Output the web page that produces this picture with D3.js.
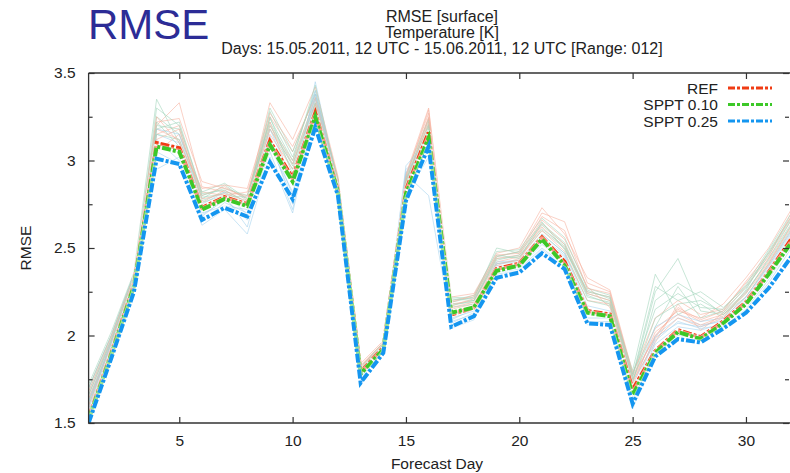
<!DOCTYPE html>
<html><head><meta charset="utf-8">
<script src="https://cdn.jsdelivr.net/npm/d3@7"></script>
<style>body{margin:0;background:#fff}svg{display:block}text{font-family:"Liberation Sans",Arial,sans-serif}</style>
</head><body><svg id="c" width="790" height="473"></svg>
<script>
const days = d3.range(1, 33);
const seriesNames = ["REF", "SPPT 0.10", "SPPT 0.25"];
const seriesColors = ["#f03c14", "#3cc828", "#1496f0"];
const memberColors = ["#f6b2a0", "#a4d6bc", "#a6d4ee"];
const refMean = [1.53,1.90,2.29,3.10,3.07,2.73,2.79,2.75,3.11,2.90,3.27,2.83,1.79,1.93,2.83,3.16,2.12,2.16,2.38,2.41,2.56,2.42,2.14,2.12,1.69,1.91,2.03,1.99,2.08,2.19,2.36,2.55];
const sppt10Mean = [1.52,1.89,2.28,3.08,3.05,2.72,2.78,2.74,3.09,2.88,3.25,2.82,1.78,1.92,2.81,3.13,2.13,2.16,2.37,2.40,2.55,2.40,2.13,2.11,1.66,1.90,2.02,1.98,2.07,2.18,2.35,2.53];
const sppt25Mean = [1.50,1.87,2.25,3.01,2.98,2.66,2.73,2.68,2.99,2.78,3.19,2.80,1.73,1.90,2.77,3.08,2.05,2.11,2.33,2.36,2.47,2.38,2.07,2.06,1.61,1.88,1.98,1.96,2.04,2.13,2.27,2.45];
const refMembers = [
 [1.70,2.00,2.35,3.20,3.33,2.85,2.82,2.80,3.25,3.05,3.38,2.90,1.83,1.96,2.90,3.29,2.20,2.22,2.45,2.48,2.70,2.65,2.30,2.25,1.78,2.10,2.20,2.12,2.15,2.30,2.45,2.70],
 [1.62,1.95,2.32,3.15,3.20,2.80,2.85,2.78,3.20,3.00,3.35,2.88,1.82,1.95,2.88,3.25,2.18,2.20,2.42,2.45,2.62,2.50,2.25,2.22,1.75,2.00,2.15,2.08,2.12,2.25,2.42,2.62],
 [1.58,1.93,2.30,3.18,3.12,2.76,2.83,2.76,3.15,2.95,3.30,2.86,1.80,1.94,2.86,3.22,2.15,2.18,2.40,2.44,2.60,2.48,2.20,2.18,1.72,1.98,2.10,2.05,2.10,2.22,2.40,2.60],
 [1.66,1.97,2.33,3.05,3.15,2.82,2.80,2.82,3.22,2.86,3.32,2.87,1.81,1.95,2.89,3.20,2.17,2.21,2.44,2.46,2.66,2.55,2.28,2.16,1.74,1.96,2.18,2.03,2.13,2.28,2.44,2.66],
 [1.60,1.96,2.31,3.22,3.24,2.88,2.84,2.79,3.33,3.12,3.42,2.91,1.84,1.97,2.92,3.30,2.22,2.24,2.47,2.50,2.73,2.58,2.33,2.26,1.79,2.04,2.14,2.10,2.18,2.33,2.50,2.72],
 [1.64,1.94,2.30,3.12,3.18,2.78,2.81,2.77,3.18,2.98,3.33,2.87,1.81,1.95,2.87,3.24,2.16,2.19,2.41,2.43,2.64,2.52,2.24,2.20,1.73,2.02,2.12,2.06,2.11,2.24,2.41,2.63],
 [1.68,1.99,2.34,3.25,3.10,2.84,2.86,2.84,3.27,3.08,3.36,2.89,1.82,1.96,2.91,3.27,2.19,2.23,2.46,2.47,2.68,2.60,2.27,2.24,1.77,1.99,2.16,2.09,2.14,2.31,2.47,2.68]
];
const sppt10Members = [
 [1.72,2.02,2.36,3.35,3.10,2.78,2.86,2.77,3.28,3.02,3.40,2.89,1.82,1.96,2.92,3.24,2.22,2.21,2.50,2.47,2.63,2.52,2.24,2.20,1.80,2.35,2.12,2.18,2.10,2.26,2.48,2.68],
 [1.64,1.96,2.33,3.25,3.15,2.80,2.84,2.80,3.22,2.98,3.36,2.88,1.81,1.95,2.88,3.21,2.18,2.19,2.44,2.45,2.60,2.50,2.22,2.19,1.76,2.25,2.44,2.14,2.12,2.24,2.44,2.64],
 [1.60,1.94,2.31,3.20,3.18,2.77,2.82,2.75,3.18,2.95,3.32,2.86,1.80,1.94,2.86,3.19,2.16,2.18,2.41,2.43,2.58,2.47,2.20,2.17,1.73,2.20,2.30,2.22,2.12,2.22,2.41,2.61],
 [1.68,1.98,2.34,3.15,3.12,2.79,2.81,2.73,3.25,2.92,3.30,2.87,1.81,1.95,2.87,3.18,2.19,2.22,2.46,2.44,2.65,2.49,2.26,2.21,1.75,2.05,2.28,2.10,2.14,2.27,2.46,2.66],
 [1.62,1.95,2.32,3.30,3.20,2.82,2.87,2.78,3.30,3.05,3.38,2.89,1.82,1.96,2.90,3.23,2.20,2.23,2.48,2.49,2.67,2.56,2.27,2.23,1.78,2.15,2.24,2.16,2.15,2.29,2.49,2.70],
 [1.70,2.00,2.35,3.22,3.08,2.76,2.80,2.79,3.20,2.97,3.33,2.88,1.81,1.95,2.89,3.20,2.17,2.20,2.43,2.46,2.61,2.51,2.23,2.18,1.74,2.10,2.18,2.20,2.13,2.25,2.43,2.63],
 [1.66,1.97,2.33,3.18,3.22,2.81,2.83,2.76,3.24,3.00,3.43,2.87,1.80,1.94,2.88,3.17,2.21,2.20,2.45,2.48,2.64,2.53,2.25,2.22,1.77,2.28,2.20,2.25,2.16,2.28,2.47,2.67]
];
const sppt25Members = [
 [1.66,1.98,2.33,3.15,3.10,2.72,2.80,2.62,3.10,2.78,3.45,2.86,1.78,1.94,2.95,3.05,2.10,2.14,2.40,2.40,2.55,2.45,2.15,2.12,1.68,2.00,2.10,2.06,2.08,2.20,2.38,2.58],
 [1.60,1.94,2.30,3.08,3.05,2.65,2.76,2.70,3.05,2.72,3.30,2.84,1.77,1.93,2.85,3.15,2.08,2.12,2.38,2.39,2.52,2.43,2.10,2.10,1.65,1.95,2.05,2.03,2.07,2.17,2.35,2.55],
 [1.56,1.91,2.28,3.12,3.00,2.68,2.78,2.66,3.12,2.75,3.35,2.85,1.76,1.92,2.90,3.10,2.06,2.10,2.36,2.38,2.50,2.40,2.08,2.08,1.62,1.92,2.02,2.00,2.05,2.15,2.32,2.52],
 [1.63,1.96,2.31,2.95,3.02,2.70,2.74,2.72,3.08,2.82,3.25,2.83,1.76,1.93,2.92,2.80,2.07,2.13,2.39,2.41,2.53,2.44,2.12,2.11,1.60,1.97,2.08,2.04,2.06,2.19,2.36,2.56],
 [1.70,2.00,2.35,3.18,3.15,2.75,2.82,2.69,3.18,2.88,3.40,2.87,1.79,1.95,2.93,3.12,2.12,2.16,2.42,2.43,2.58,2.47,2.17,2.14,1.70,2.05,2.12,2.08,2.10,2.22,2.40,2.60],
 [1.58,1.93,2.29,3.05,2.98,2.63,2.72,2.58,3.02,2.70,3.28,2.83,1.75,1.92,2.80,3.02,2.04,2.09,2.35,2.37,2.49,2.39,2.06,2.07,1.58,1.90,2.00,1.99,2.04,2.14,2.30,2.50],
 [1.62,1.95,2.31,3.10,3.08,2.69,2.77,2.74,3.14,2.80,3.38,2.85,1.77,1.93,2.97,3.12,2.09,2.15,2.41,2.42,2.56,2.46,2.13,2.13,1.66,1.99,2.07,2.05,2.09,2.21,2.39,2.59]
];
const xTicks = [5, 10, 15, 20, 25, 30];
const yTicks = [1.5, 2, 2.5, 3, 3.5];
const yMinorTicks = [1.75, 2.25, 2.75, 3.25];

const svg = d3.select("#c");
const L = 88.6, T = 73, B = 423, R = 791.3;
const x = d3.scaleLinear().domain([1, 32]).range([L, R]);
const y = d3.scaleLinear().domain([1.5, 3.5]).range([B, T]);
const axisColor = "#333";
const fs = 15.5;

svg.append("defs").append("clipPath").attr("id", "clip")
  .append("rect").attr("x", L).attr("y", T).attr("width", 790 - L).attr("height", B - T);

const line = d3.line().x((d, i) => x(days[i])).y(d => y(d));
const plot = svg.append("g").attr("clip-path", "url(#clip)");

const memberSets = [refMembers, sppt10Members, sppt25Members];
for (let k = 0; k < refMembers.length; k++) {
  memberSets.forEach((set, s) => {
    plot.append("path").attr("d", line(set[k])).attr("fill", "none")
      .attr("stroke", memberColors[s]).attr("stroke-width", 1).attr("stroke-opacity", 0.6);
  });
}
const means = [refMean, sppt10Mean, sppt25Mean];
const dash = "9,2,3,2";
means.forEach((m, s) => {
  plot.append("path").attr("d", line(m)).attr("fill", "none")
    .attr("stroke", "#fff").attr("stroke-width", 5.5).attr("stroke-opacity", 0.5).attr("stroke-linejoin", "round");
  plot.append("path").attr("d", line(m)).attr("fill", "none")
    .attr("stroke", seriesColors[s]).attr("stroke-width", 4).attr("stroke-dasharray", dash);
});

// frame
svg.append("path").attr("d", `M${L},${T}H790M${L},${T}V${B}H790`)
  .attr("stroke", axisColor).attr("stroke-width", 1.3).attr("fill", "none");

const gxb = svg.append("g").attr("transform", `translate(0,${B})`)
  .call(d3.axisBottom(x).tickValues(xTicks).tickSize(-6).tickPadding(12).tickFormat(d3.format("d")));
const gxt = svg.append("g").attr("transform", `translate(0,${T})`)
  .call(d3.axisTop(x).tickValues(xTicks).tickSize(-6).tickFormat(""));
const gyl = svg.append("g").attr("transform", `translate(${L},0)`)
  .call(d3.axisLeft(y).tickValues(yTicks).tickSize(-6).tickPadding(13).tickFormat(d => String(d)));
const gylm = svg.append("g").attr("transform", `translate(${L},0)`)
  .call(d3.axisLeft(y).tickValues(yMinorTicks).tickSize(-4).tickFormat(""));
const gyr = svg.append("g").attr("transform", `translate(789,0)`)
  .call(d3.axisRight(y).tickValues(yTicks).tickSize(-6).tickFormat(""));
const gyrm = svg.append("g").attr("transform", `translate(789,0)`)
  .call(d3.axisRight(y).tickValues(yMinorTicks).tickSize(-4).tickFormat(""));
[gxb, gxt, gyl, gylm, gyr, gyrm].forEach(g => {
  g.select(".domain").remove();
  g.selectAll(".tick line").attr("stroke", axisColor).attr("stroke-width", 1.2);
  g.selectAll("text").attr("font-size", fs).attr("fill", "#222")
    .attr("font-family", "Liberation Sans, Arial, sans-serif");
});

// titles
svg.append("text").attr("x", 88).attr("y", 39).attr("font-size", 42).attr("fill", "#2c2c96").text("RMSE");
const sub = ["RMSE [surface]", "Temperature [K]", "Days: 15.05.2011, 12 UTC - 15.06.2011, 12 UTC [Range: 012]"];
sub.forEach((t, i) => svg.append("text").attr("x", 442).attr("y", 22 + i * 16).attr("text-anchor", "middle")
  .attr("font-size", 16).attr("fill", "#222").text(t));
svg.append("text").attr("x", 437).attr("y", 469).attr("text-anchor", "middle").attr("font-size", fs).attr("fill", "#222").text("Forecast Day");
svg.append("text").attr("transform", "translate(31,248) rotate(-90)").attr("text-anchor", "middle").attr("font-size", fs).attr("fill", "#222").text("RMSE");

// legend
const lg = svg.append("g");
seriesNames.forEach((n, i) => {
  const yy = 88 + i * 16.5;
  lg.append("text").attr("x", 718).attr("y", yy + 5.5).attr("text-anchor", "end").attr("font-size", fs).attr("fill", "#222").text(n);
  lg.append("line").attr("x1", 728).attr("x2", 772).attr("y1", yy).attr("y2", yy)
    .attr("stroke", seriesColors[i]).attr("stroke-width", 3).attr("stroke-dasharray", "7,2,3,2");
});
</script></body></html>
